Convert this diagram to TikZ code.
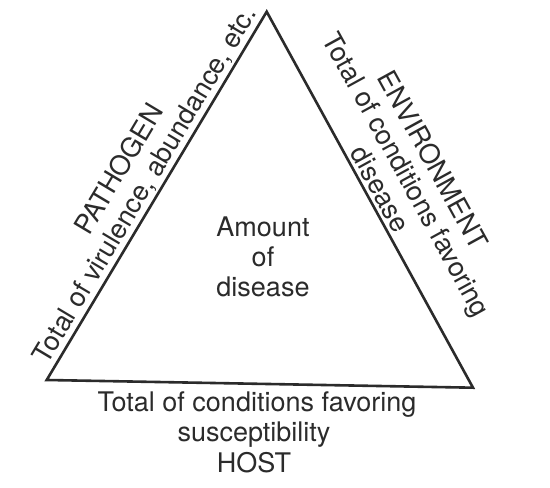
\documentclass[tikz,border=0pt]{standalone}
\usepackage{fontspec}
\setmainfont{TeX Gyre Heros}
\usetikzlibrary{calc}
\definecolor{ink}{HTML}{2B2B2B}
\begin{document}
\begin{tikzpicture}[x=1pt,y=1pt,
  lbl/.style={font=\fontsize{27}{30}\selectfont, text=ink, inner sep=0pt, anchor=base},
  edgeline/.style={draw=ink, line width=2.6pt, line join=miter}]
\useasboundingbox (0,0) rectangle (550,488);
\fill[white] (0,0) rectangle (550,488);
\coordinate (A) at (266.7,476.3);
\coordinate (B) at (46.7,108);
\coordinate (C) at (473,100.3);
\draw[edgeline] (A) -- (B) -- (C) -- cycle;
% left side
\coordinate (ML) at ($(B)!0.508!(A)$);
\node[lbl, rotate=59.15] (pathsub) at ($(ML)!7pt!90:(A)$) {Total of virulence, abundance, etc.};
\node[lbl, rotate=59.15] (pathogen) at ($(ML)!37pt!90:(A)$) {PATHOGEN};
% right side
\coordinate (MR) at ($(A)!0.49!(C)$);
\node[lbl, rotate=-61.25] (envsub2) at ($(MR)!5pt!90:(C)$) {disease};
\node[lbl, rotate=-61.25] (envsub1) at ($(MR)!35pt!90:(C)$) {Total of conditions favoring};
\node[lbl, rotate=-61.25] (environment) at ($(MR)!65pt!90:(C)$) {ENVIRONMENT};
% bottom
\node[lbl] (hostsub1) at (257,76.3) {Total of conditions favoring};
\node[lbl] (hostsub2) at (254,46) {susceptibility};
\node[lbl] (host) at (254,15) {HOST};
% centre
\node[lbl] (amount) at (263,251.3) {Amount};
\node[lbl] (of) at (263,221.3) {of};
\node[lbl] (disease) at (263,191.3) {disease};
\end{tikzpicture}
\end{document}
